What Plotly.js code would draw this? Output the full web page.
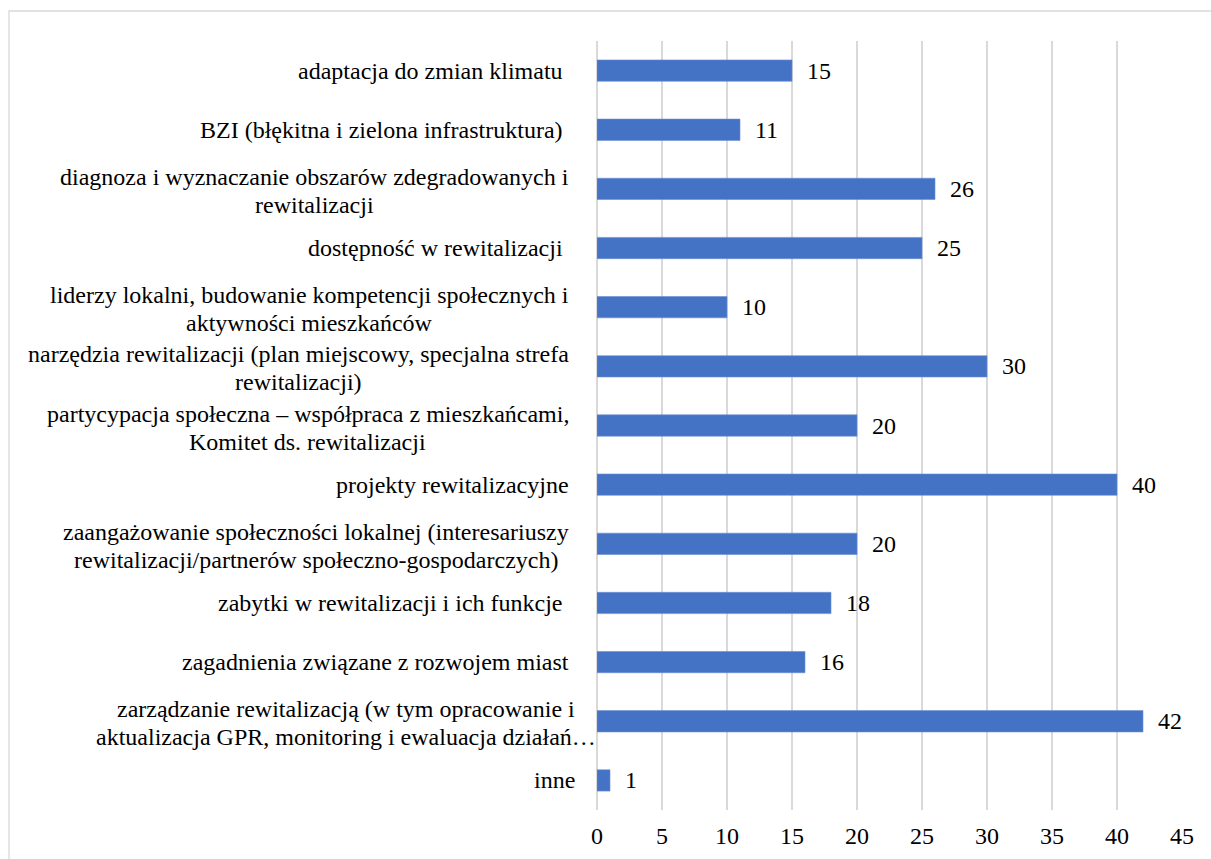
<!DOCTYPE html>
<html>
<head>
<meta charset="utf-8">
<script src="https://cdn.plot.ly/plotly-3.0.1.min.js"></script>
<style>html,body{margin:0;padding:0;background:#fff;}#chart{width:1211px;height:859px;}</style>
</head>
<body>
<div id="chart"></div>
<script>
const categories = [
  "adaptacja do zmian klimatu\u00A0",
  "BZI (błękitna i zielona infrastruktura)\u00A0",
  "diagnoza i wyznaczanie obszarów zdegradowanych i<br>rewitalizacji",
  "dostępność w rewitalizacji\u00A0",
  "liderzy lokalni, budowanie kompetencji społecznych i<br>aktywności mieszkańców",
  "narzędzia rewitalizacji (plan miejscowy, specjalna strefa<br>rewitalizacji)",
  "partycypacja społeczna – współpraca z mieszkańcami,<br>Komitet ds. rewitalizacji",
  "projekty rewitalizacyjne",
  "zaangażowanie społeczności lokalnej (interesariuszy<br>rewitalizacji/partnerów społeczno-gospodarczych)",
  "zabytki w rewitalizacji i ich funkcje\u00A0",
  "zagadnienia związane z rozwojem miast",
  "zarządzanie rewitalizacją (w tym opracowanie i<br>aktualizacja GPR, monitoring i ewaluacja działań…",
  "inne"
];
const values = [15, 11, 26, 25, 10, 30, 20, 40, 20, 18, 16, 42, 1];
const xTicks = [0, 5, 10, 15, 20, 25, 30, 35, 40, 45];

const FONT = "Liberation Serif, Times New Roman, serif";
const FS = 24;
const catIds = categories.map((c, i) => 'c' + i);

// text measuring, to center multi-line labels like the original
const ctx = document.createElement('canvas').getContext('2d');
ctx.font = FS + 'px "Liberation Serif", "Times New Roman", serif';
const LABEL_GAP = 28;            // gap between label block and axis (px)
const labelNudge = {11: 27, 12: 6};
const LINE_OFFSETS = [12, -16];  // yshift of line 1 / line 2 in two-line labels

const annotations = [];
categories.forEach((c, i) => {
  const lines = c.split('<br>');
  const w = Math.max(...lines.map(l => ctx.measureText(l).width));
  const center = -LABEL_GAP + (labelNudge[i] || 0) - w / 2;
  lines.forEach((line, j) => {
    annotations.push({
      xref: 'paper', yref: 'y', x: 0, y: catIds[i],
      xanchor: 'center', yanchor: 'middle',
      xshift: center, yshift: lines.length > 1 ? LINE_OFFSETS[j] : 0,
      text: line, showarrow: false, borderpad: 0, borderwidth: 0,
      font: {family: FONT, size: FS, color: '#000'}
    });
  });
  annotations.push({
    xref: 'x', yref: 'y', x: values[i], y: catIds[i],
    xanchor: 'left', yanchor: 'middle',
    xshift: 13, text: String(values[i]), showarrow: false,
    font: {family: FONT, size: FS, color: '#000'}
  });
});

const trace = {
  type: 'bar', orientation: 'h',
  x: values, y: catIds,
  marker: {color: '#4472C4', line: {color: '#6A8FD4', width: 0.6}},
  hoverinfo: 'x'
};

const layout = {
  width: 1211, height: 859,
  margin: {l: 597, r: 29, t: 41, b: 49, pad: 0},
  paper_bgcolor: '#fff', plot_bgcolor: '#fff',
  showlegend: false,
  bargap: 0.64,
  font: {family: FONT, size: FS, color: '#000'},
  xaxis: {
    range: [0, 45], tickvals: xTicks, ticktext: xTicks.map(String),
    showgrid: true, gridcolor: '#D9D9D9', gridwidth: 1.3,
    zeroline: true, zerolinecolor: '#D9D9D9', zerolinewidth: 1.3,
    showline: false, ticks: 'outside', ticklen: 4, tickcolor: 'rgba(0,0,0,0)',
    tickfont: {family: FONT, size: FS, color: '#000'}, fixedrange: true
  },
  yaxis: {
    type: 'category', autorange: 'reversed',
    showticklabels: false, showgrid: false, zeroline: false, showline: false,
    fixedrange: true
  },
  annotations: annotations,
  shapes: [{
    type: 'rect', xref: 'paper', yref: 'paper',
    x0: (9 - 597) / 585, x1: (1230 - 597) / 585,
    y0: (810 - 880) / 769, y1: (810 - 11) / 769,
    line: {color: '#D9D9D9', width: 1.3}, fillcolor: 'rgba(0,0,0,0)', layer: 'below'
  }]
};

Plotly.newPlot('chart', [trace], layout, {displayModeBar: false, staticPlot: true});
</script>
</body>
</html>
